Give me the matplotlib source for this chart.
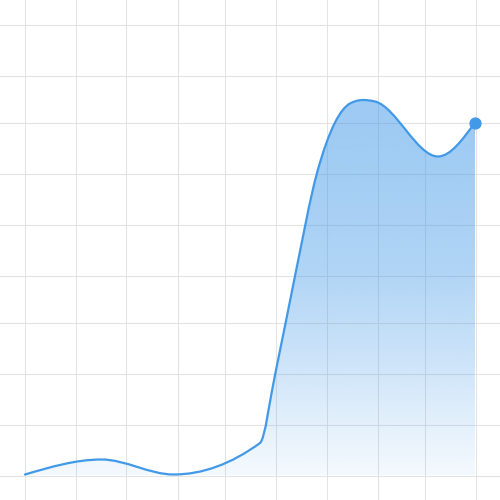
import numpy as np
import matplotlib
matplotlib.use("Agg")
import matplotlib.pyplot as plt
from matplotlib.path import Path
from matplotlib.patches import PathPatch

# values (one grid cell = 1 unit)
x_vals = [0.00, 1.53, 2.97, 4.70, 5.00, 5.40, 5.84, 6.20, 6.50, 6.76, 7.00, 8.26, 9.00]
y_vals = [0.01, 0.31, 0.01, 0.64, 2.00, 3.98, 6.04, 7.05, 7.43, 7.50, 7.47, 6.37, 7.05]

line_color = '#4299e8'
grid_color = '#e3e3e3'
# grid line pixel columns / rows of the 500px canvas
grid_cols = [24, 75, 126, 177, 224, 275, 326, 377, 424, 475]
grid_rows = [24, 75, 122, 173, 224, 275, 322, 373, 424, 475]


def monotone_tangents(x, y):
    """tangents like d3 curveMonotoneX"""
    n = len(x)
    m = np.zeros(n)
    for i in range(1, n - 1):
        h0, h1 = x[i] - x[i - 1], x[i + 1] - x[i]
        s0, s1 = (y[i] - y[i - 1]) / h0, (y[i + 1] - y[i]) / h1
        p = (s0 * h1 + s1 * h0) / (h0 + h1)
        m[i] = (np.sign(s0) + np.sign(s1)) * min(abs(s0), abs(s1), 0.5 * abs(p))
    m[0] = (3 * (y[1] - y[0]) / (x[1] - x[0]) - m[1]) / 2
    m[-1] = (3 * (y[-1] - y[-2]) / (x[-1] - x[-2]) - m[-2]) / 2
    return m


def curve_vertices(x, y):
    m = monotone_tangents(x, y)
    verts = [(x[0], y[0])]
    codes = [Path.MOVETO]
    for i in range(len(x) - 1):
        h = (x[i + 1] - x[i]) / 3
        verts += [(x[i] + h, y[i] + h * m[i]),
                  (x[i + 1] - h, y[i + 1] - h * m[i + 1]),
                  (x[i + 1], y[i + 1])]
        codes += [Path.CURVE4] * 3
    return verts, codes


x = np.array(x_vals)
y = np.array(y_vals)

fig = plt.figure(figsize=(5, 5), dpi=100)
ax = fig.add_axes([0, 0, 1, 1])
ax.set_xlim(-0.5, 9.5)
ax.set_ylim(-0.5, 9.5)

# grid (1px lines, centred on pixel rows/cols)
for c in grid_cols:
    ax.axvline((c + 0.5) / 50 - 0.5, color=grid_color, lw=0.75, zorder=0)
for r in grid_rows:
    ax.axhline(9.5 - (r + 0.5) / 50, color=grid_color, lw=0.75, zorder=0)
ax.axis('off')

verts, codes = curve_vertices(x, y)

# area under curve with vertical gradient
area_verts = verts + [(x[-1], 0), (x[0], 0), (x[0], y[0])]
area_codes = codes + [Path.LINETO, Path.LINETO, Path.CLOSEPOLY]
area = PathPatch(Path(area_verts, area_codes), facecolor='none', edgecolor='none')
ax.add_patch(area)

rgb = matplotlib.colors.to_rgb(line_color)
ys = np.linspace(0, 7.6, 300)
alpha = np.interp(ys, [0, 0.5, 2.1, 4.1, 6.4, 7.6], [0.06, 0.10, 0.25, 0.42, 0.50, 0.52])
grad = np.zeros((len(ys), 1, 4))
grad[:, 0, :3] = rgb
grad[:, 0, 3] = alpha
im = ax.imshow(grad, extent=[x[0], x[-1], 0, 7.6], origin='lower',
               aspect='auto', interpolation='bilinear', zorder=1)
im.set_clip_path(area)

# line
ax.add_patch(PathPatch(Path(verts, codes), facecolor='none',
                       edgecolor=line_color, lw=1.6, zorder=3,
                       capstyle='round', joinstyle='round'))
ax.plot(x[-1], y[-1], 'o', color=line_color, markersize=7.8, zorder=4)

ax.set_xlim(-0.5, 9.5)
ax.set_ylim(-0.5, 9.5)
fig.savefig('out.png', dpi=100)
